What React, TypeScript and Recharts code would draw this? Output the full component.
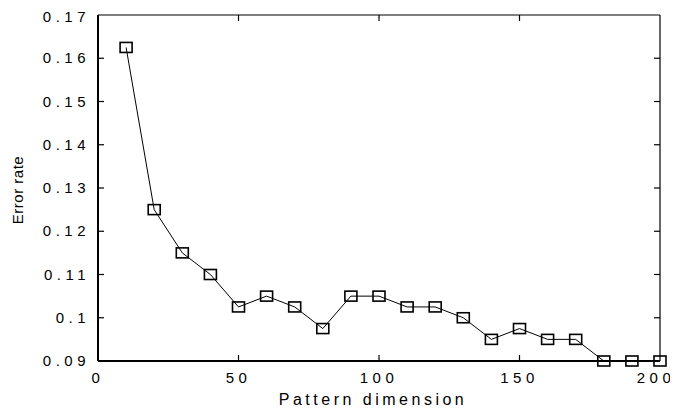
import React from "react";
import { LineChart, Line, XAxis, YAxis, ReferenceLine } from "recharts";

const dims = [10, 20, 30, 40, 50, 60, 70, 80, 90, 100, 110, 120, 130, 140, 150, 160, 170, 180, 190, 200];
const errorRates = [0.1625, 0.125, 0.115, 0.11, 0.1025, 0.105, 0.1025, 0.0975, 0.105, 0.105, 0.1025, 0.1025, 0.1, 0.095, 0.0975, 0.095, 0.095, 0.09, 0.09, 0.09];
const xTicks = [0, 50, 100, 150, 200];
const xTickLabels = ["0", "50", "100", "150", "200"];
const yTicks = [0.09, 0.1, 0.11, 0.12, 0.13, 0.14, 0.15, 0.16, 0.17];
const yTickLabels = ["0.09", "0.1", "0.11", "0.12", "0.13", "0.14", "0.15", "0.16", "0.17"];
const xTitle = "Pattern dimension";
const yTitle = "Error rate";

const data = dims.map((d, i) => ({ dim: d, err: errorRates[i] }));

const FONT = "Arial, 'Liberation Sans', sans-serif";
const TICK = 6;

const LeftTick = (props: any) => {
  const { x, y, index } = props;
  return (
    <text x={x - 8} y={y} dy={5} textAnchor="end" fontFamily={FONT} fontSize={15} letterSpacing={4.5} fill="#000">
      {yTickLabels[index]}
    </text>
  );
};

const BottomTick = (props: any) => {
  const { x, y, index } = props;
  const last = index === xTicks.length - 1;
  return (
    <text x={x} y={y} dx={last ? -4 : 0} dy={22} textAnchor="middle" fontFamily={FONT} fontSize={15} letterSpacing={4.5} fill="#000">
      {xTickLabels[index]}
    </text>
  );
};

// Short inward ticks at both ends of a horizontal reference line (left & right frame)
const HTickShape = (props: any) => {
  const { x1, y1, x2, y2 } = props;
  const l = Math.min(x1, x2);
  const r = Math.max(x1, x2);
  return (
    <g>
      <line x1={l} y1={y1} x2={l + TICK} y2={y1} stroke="#000" strokeWidth={1.2} />
      <line x1={r} y1={y2} x2={r - TICK} y2={y2} stroke="#000" strokeWidth={1.2} />
    </g>
  );
};

// Short inward ticks at both ends of a vertical reference line (top & bottom frame)
const VTickShape = (props: any) => {
  const { x1, y1, x2, y2 } = props;
  const t = Math.min(y1, y2);
  const b = Math.max(y1, y2);
  return (
    <g>
      <line x1={x1} y1={t} x2={x1} y2={t + TICK} stroke="#000" strokeWidth={1.2} />
      <line x1={x2} y1={b} x2={x2} y2={b - TICK} stroke="#000" strokeWidth={1.2} />
    </g>
  );
};

const SquareDot = (props: any) => {
  const { cx, cy } = props;
  if (cx == null || cy == null) return <g />;
  return <rect x={cx - 6} y={cy - 5} width={12} height={10} fill="none" stroke="#000" strokeWidth={1.6} />;
};

export default function App() {
  const innerY = yTicks.slice(1, -1);
  const innerX = xTicks.slice(1, -1);
  return (
    <div style={{ width: 670, height: 406, position: "relative", background: "#fff" }}>
      <LineChart width={670} height={406} data={data} margin={{ top: 7, right: 18, left: 0, bottom: 0 }} style={{ overflow: "visible" }}>
        <XAxis dataKey="dim" type="number" domain={[0, 200]} ticks={xTicks} height={53} tickSize={0} tickMargin={0} tickLine={false} tick={<BottomTick />} axisLine={{ stroke: "#000", strokeWidth: 2 }} />
        <YAxis type="number" domain={[0.09, 0.17]} ticks={yTicks} width={90} tickSize={0} tickMargin={0} tickLine={false} tick={<LeftTick />} axisLine={{ stroke: "#000", strokeWidth: 2 }} />
        <ReferenceLine y={yTicks[yTicks.length - 1]} stroke="#000" strokeWidth={1.2} />
        <ReferenceLine x={xTicks[xTicks.length - 1]} stroke="#000" strokeWidth={1.2} />
        {innerY.map((v) => (
          <ReferenceLine key={"y" + v} y={v} stroke="#000" shape={<HTickShape />} />
        ))}
        {innerX.map((v) => (
          <ReferenceLine key={"x" + v} x={v} stroke="#000" shape={<VTickShape />} />
        ))}
        <Line type="linear" dataKey="err" stroke="#000" strokeWidth={1} dot={<SquareDot />} activeDot={false} isAnimationActive={false} />
      </LineChart>
      <div style={{ position: "absolute", left: 165, top: 384, width: 400, textAlign: "center", fontFamily: FONT, fontSize: 16, letterSpacing: 3.5, lineHeight: "16px", color: "#000", whiteSpace: "nowrap" }}>
        {xTitle}
      </div>
      <div style={{ position: "absolute", left: -35.5, top: 173, width: 90, height: 18, transform: "rotate(-90deg)", textAlign: "center", fontFamily: FONT, fontSize: 15, letterSpacing: 0.5, lineHeight: "18px", color: "#000", whiteSpace: "nowrap" }}>
        {yTitle}
      </div>
    </div>
  );
}
